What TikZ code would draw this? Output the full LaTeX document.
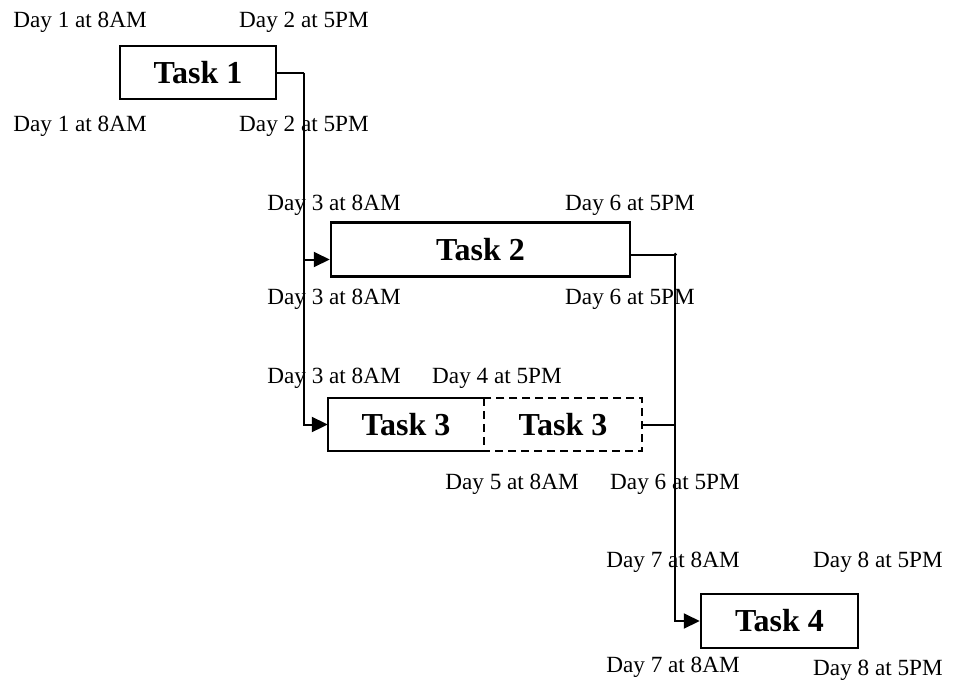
\documentclass[tikz,border=0pt]{standalone}
\usepackage{fontspec}
\setmainfont{Liberation Serif}
\usetikzlibrary{arrows.meta}
\begin{document}
\begin{tikzpicture}[x=1pt,y=1pt,
  lab/.style={font=\fontsize{23.2}{24}\selectfont, anchor=base, inner sep=0pt},
  taskbox/.style={draw, line width=2.5pt, inner sep=0pt, font=\fontsize{32}{33}\selectfont\bfseries},
  tasktext/.style={inner sep=0pt, font=\fontsize{32}{33}\selectfont\bfseries},
  conn/.style={line width=2pt},
  arr/.style={conn, -{Triangle[length=16pt,width=15pt]}}]
\useasboundingbox (0,0) rectangle (961,-681);
% boxes
\node[taskbox, minimum width=156pt, minimum height=53pt] (t1) at (198,-72.5) {Task 1};
\node[taskbox, minimum width=299pt, minimum height=54pt] (t2) at (480.5,-249.5) {Task 2};
\node[tasktext, minimum width=156pt, minimum height=53pt] (t3a) at (406,-424.5) {Task 3};
\node[tasktext, minimum width=158pt, minimum height=53pt] (t3b) at (563,-424.5) {Task 3};
\node[taskbox, minimum width=157pt, minimum height=54pt] (t4) at (779.5,-621) {Task 4};
\draw[line width=2.5pt] (t3a.north east) -- (t3a.north west) -- (t3a.south west) -- (t3a.south east);
\draw[line width=2.5pt, dash pattern=on 8pt off 5pt] (t3b.north west) rectangle (t3b.south east);
% labels
\node[lab] (a1) at (80,-27) {Day 1 at 8AM};
\node[lab] (a2) at (304,-27) {Day 2 at 5PM};
\node[lab] (a3) at (80,-131) {Day 1 at 8AM};
\node[lab] (a4) at (304,-131) {Day 2 at 5PM};
\node[lab] (b1) at (334,-210) {Day 3 at 8AM};
\node[lab] (b2) at (630,-210) {Day 6 at 5PM};
\node[lab] (b3) at (334,-304) {Day 3 at 8AM};
\node[lab] (b4) at (630,-304) {Day 6 at 5PM};
\node[lab] (c1) at (334,-383) {Day 3 at 8AM};
\node[lab] (c2) at (497,-383) {Day 4 at 5PM};
\node[lab] (c3) at (512,-489) {Day 5 at 8AM};
\node[lab] (c4) at (675,-489) {Day 6 at 5PM};
\node[lab] (d1) at (673,-567) {Day 7 at 8AM};
\node[lab] (d2) at (878,-567) {Day 8 at 5PM};
\node[lab] (d3) at (673,-672) {Day 7 at 8AM};
\node[lab] (d4) at (878,-675) {Day 8 at 5PM};
% connectors
\draw[conn] (t1.east) -- ++(27,0) coordinate (j1);
\draw[arr] (j1) |- (t3a.west);
\draw[arr] ([yshift=-10pt]t2.west -| j1) -- ([yshift=-10pt]t2.west);
\draw[conn] ([yshift=-5pt]t2.east) -- ++(44,0) coordinate (j2);
\fill (j2) circle (1.8pt);
\draw[arr] (j2) |- (t4.west);
\draw[conn] (t3b.east) -- (t3b.east -| j2);
\end{tikzpicture}
\end{document}
